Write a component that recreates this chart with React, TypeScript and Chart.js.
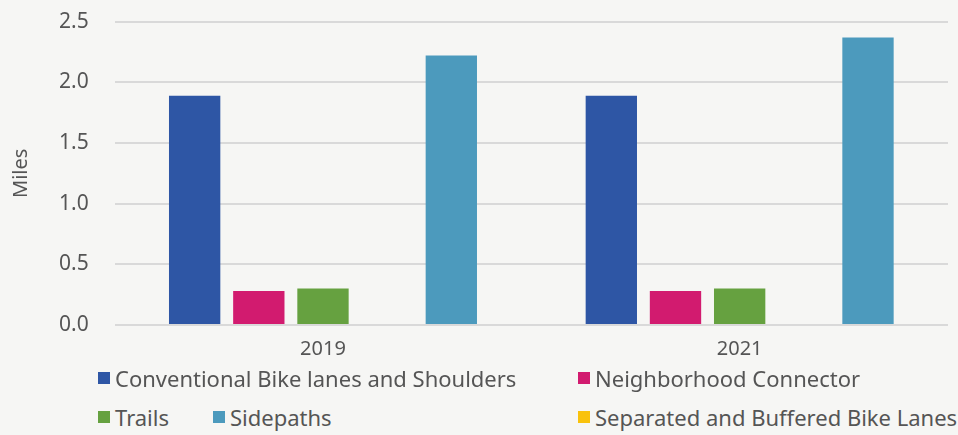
import React, { useEffect, useRef } from "react";
import { Chart, registerables } from "chart.js";

Chart.register(...registerables);

const categories = ["2019", "2021"];
const seriesNames = [
  "Conventional Bike lanes and Shoulders",
  "Neighborhood Connector",
  "Trails",
  "Separated and Buffered Bike Lanes",
  "Sidepaths",
];
const conventional = [1.89, 1.89];
const neighborhood = [0.28, 0.28];
const trails = [0.3, 0.3];
const separated = [0, 0];
const sidepaths = [2.22, 2.37];
const colors = ["#2e56a5", "#d21b6f", "#66a140", "#f9c20c", "#4c9abd"];
const yTicks = [0, 0.5, 1.0, 1.5, 2.0, 2.5];

const FONT = "'Noto Sans', sans-serif";

// legend layout: [series index, left px, top px]
const legendLayout: [number, number, number][] = [
  [0, 98, 363],
  [1, 578, 363],
  [2, 98, 402],
  [4, 213, 402],
  [3, 578, 402],
];

export default function App() {
  const ref = useRef<HTMLCanvasElement | null>(null);
  useEffect(() => {
    document.body.style.margin = "0";
    document.body.style.background = "#f6f6f4";
    const values = [conventional, neighborhood, trails, separated, sidepaths];
    const chart = new Chart(ref.current!, {
      type: "bar",
      data: {
        labels: categories,
        datasets: seriesNames.map((name, i) => ({
          label: name,
          data: values[i],
          backgroundColor: colors[i],
          categoryPercentage: 0.77,
          barPercentage: 0.8,
        })),
      },
      options: {
        animation: false,
        responsive: false,
        maintainAspectRatio: false,
        layout: { padding: { top: 0, right: 10, left: 9, bottom: 0 } },
        plugins: { legend: { display: false }, tooltip: { enabled: false } },
        scales: {
          x: {
            grid: { display: false },
            border: { display: false },
            ticks: { color: "#555", font: { family: FONT, size: 20 }, padding: 4 },
          },
          y: {
            min: 0,
            max: 2.5,
            afterBuildTicks: (s: any) => {
              s.ticks = yTicks.map((v) => ({ value: v }));
            },
            grid: { color: "#d9d9d9", lineWidth: 2, drawTicks: false },
            border: { display: false },
            ticks: {
              color: "#555",
              font: { family: FONT, size: 21 },
              padding: 26,
              callback: (v: any) => Number(v).toFixed(1),
            },
            title: {
              display: true,
              text: "Miles",
              color: "#555",
              font: { family: FONT, size: 20 },
              padding: 0,
            },
          },
        },
      },
    });
    return () => chart.destroy();
  }, []);
  return (
    <div style={{ position: "relative", width: 958, height: 435, fontFamily: FONT, overflow: "hidden" }}>
      <canvas
        ref={ref}
        width={958}
        height={382}
        style={{ display: "block", position: "absolute", left: 0, top: -17 }}
      />
      {legendLayout.map(([idx, left, top]) => (
        <div
          key={idx}
          style={{
            position: "absolute",
            left,
            top,
            display: "flex",
            alignItems: "center",
            fontSize: 22,
            color: "#555",
            whiteSpace: "nowrap",
          }}
        >
          <span
            style={{
              display: "inline-block",
              width: 12,
              height: 12,
              background: colors[idx],
              marginRight: 5,
            }}
          />
          {seriesNames[idx]}
        </div>
      ))}
    </div>
  );
}
